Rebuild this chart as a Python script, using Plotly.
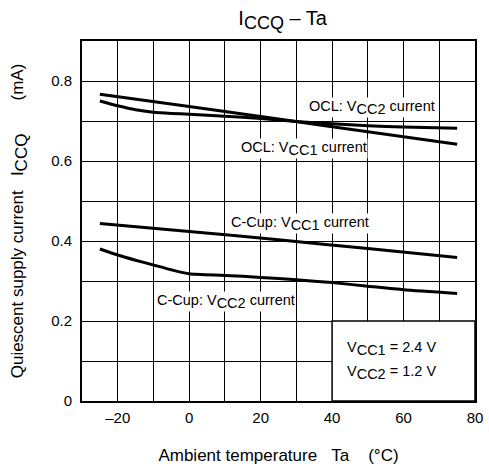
import plotly.graph_objects as go

# ---- data ----
ocl_vcc1_x = [-25, 0, 25, 50, 75]
ocl_vcc1_y = [0.767, 0.736, 0.705, 0.673, 0.642]

ocl_vcc2_x = [-25, -20, -15, -10, -5, 0, 10, 20, 30, 40, 50, 60, 75]
ocl_vcc2_y = [0.750, 0.738, 0.728, 0.722, 0.719, 0.717, 0.712, 0.706, 0.699, 0.693, 0.688, 0.685, 0.682]

ccup_vcc1_x = [-25, 0, 25, 50, 75]
ccup_vcc1_y = [0.444, 0.424, 0.403, 0.381, 0.359]

ccup_vcc2_x = [-25, -20, -15, -10, -5, 0, 10, 20, 30, 40, 50, 60, 75]
ccup_vcc2_y = [0.380, 0.365, 0.352, 0.340, 0.328, 0.318, 0.314, 0.309, 0.303, 0.296, 0.287, 0.278, 0.269]

x_tickvals = [-30, -20, -10, 0, 10, 20, 30, 40, 50, 60, 70, 80]
x_ticktext = ["", "\u201320", "", "0", "", "20", "", "40", "", "60", "", "80"]
y_tickvals = [0, 0.1, 0.2, 0.3, 0.4, 0.5, 0.6, 0.7, 0.8, 0.9]
y_ticktext = ["0", "", "0.2", "", "0.4", "", "0.6", "", "0.8", ""]

FONT = "Liberation Sans, Arial, sans-serif"
NB = "\u00a0"
LBL = 14.5


def sub(t, size):
    return "<sub><span style='font-size:%gpx'>%s</span></sub>" % (size, t)


fig = go.Figure()
series = [
    (ocl_vcc1_x, ocl_vcc1_y, "OCL: VCC1"),
    (ocl_vcc2_x, ocl_vcc2_y, "OCL: VCC2"),
    (ccup_vcc1_x, ccup_vcc1_y, "C-Cup: VCC1"),
    (ccup_vcc2_x, ccup_vcc2_y, "C-Cup: VCC2"),
]
for xs, ys, nm in series:
    fig.add_trace(go.Scatter(x=xs, y=ys, mode="lines", name=nm,
                             line=dict(color="black", width=3, shape="spline", smoothing=0.6),
                             showlegend=False))

# white box for the supply voltage note (no grid inside)
fig.add_shape(type="rect", xref="x", yref="y", x0=40, x1=80, y0=0, y1=0.2,
              fillcolor="white", line=dict(color="black", width=1.5), layer="between")


def ann(x, y, text, xanchor="center"):
    fig.add_annotation(x=x, y=y, xref="x", yref="y", text=text, showarrow=False,
                       xanchor=xanchor, yanchor="middle", bgcolor="white",
                       font=dict(family=FONT, size=LBL, color="black"), borderpad=0)


ann(51.2, 0.733, "OCL: V" + sub("CC2", LBL) + " current")
ann(32.1, 0.631, "OCL: V" + sub("CC1", LBL) + " current")
ann(30.9, 0.445, "C-Cup: V" + sub("CC1", LBL) + " current")
ann(10.2, 0.248, "C-Cup: V" + sub("CC2", LBL) + " current")
ann(43.8, 0.132, "V" + sub("CC1", LBL) + " = 2.4 V", xanchor="left")
ann(43.8, 0.072, "V" + sub("CC2", LBL) + " = 1.2 V", xanchor="left")

fig.update_layout(
    width=489, height=469,
    margin=dict(l=82, r=6, t=41, b=68),
    plot_bgcolor="white", paper_bgcolor="white",
    font=dict(family=FONT, size=15, color="black"),
    title=dict(text="I" + sub("CCQ", 18) + " \u2013 Ta", x=0.578, xanchor="center",
               y=0.962, yanchor="middle", yref="container",
               font=dict(family=FONT, size=20, color="black")),
    xaxis=dict(range=[-30, 80], tickvals=x_tickvals, ticktext=x_ticktext,
               showgrid=True, gridcolor="#000", gridwidth=1,
               showline=True, linecolor="black", linewidth=2, mirror=True,
               zeroline=False, ticks="", ticklabelstandoff=2,
               ticklabeloverflow="allow",
               tickfont=dict(family=FONT, size=15),
               title=dict(text="Ambient temperature" + NB * 3 + "Ta" + NB * 4 + "(\u00b0C)",
                          standoff=24, font=dict(family=FONT, size=17))),
    yaxis=dict(range=[0, 0.9], tickvals=y_tickvals, ticktext=y_ticktext,
               showgrid=True, gridcolor="#000", gridwidth=1,
               showline=True, linecolor="black", linewidth=2, mirror=True,
               zeroline=False, ticks="", ticklabelstandoff=5,
               tickfont=dict(family=FONT, size=15),
               title=dict(text="Quiescent supply current" + NB * 3 + "I" + sub("CCQ", 17) + NB * 7 + "(mA)",
                          standoff=23, font=dict(family=FONT, size=17))),
)

fig.write_html("out.html")
